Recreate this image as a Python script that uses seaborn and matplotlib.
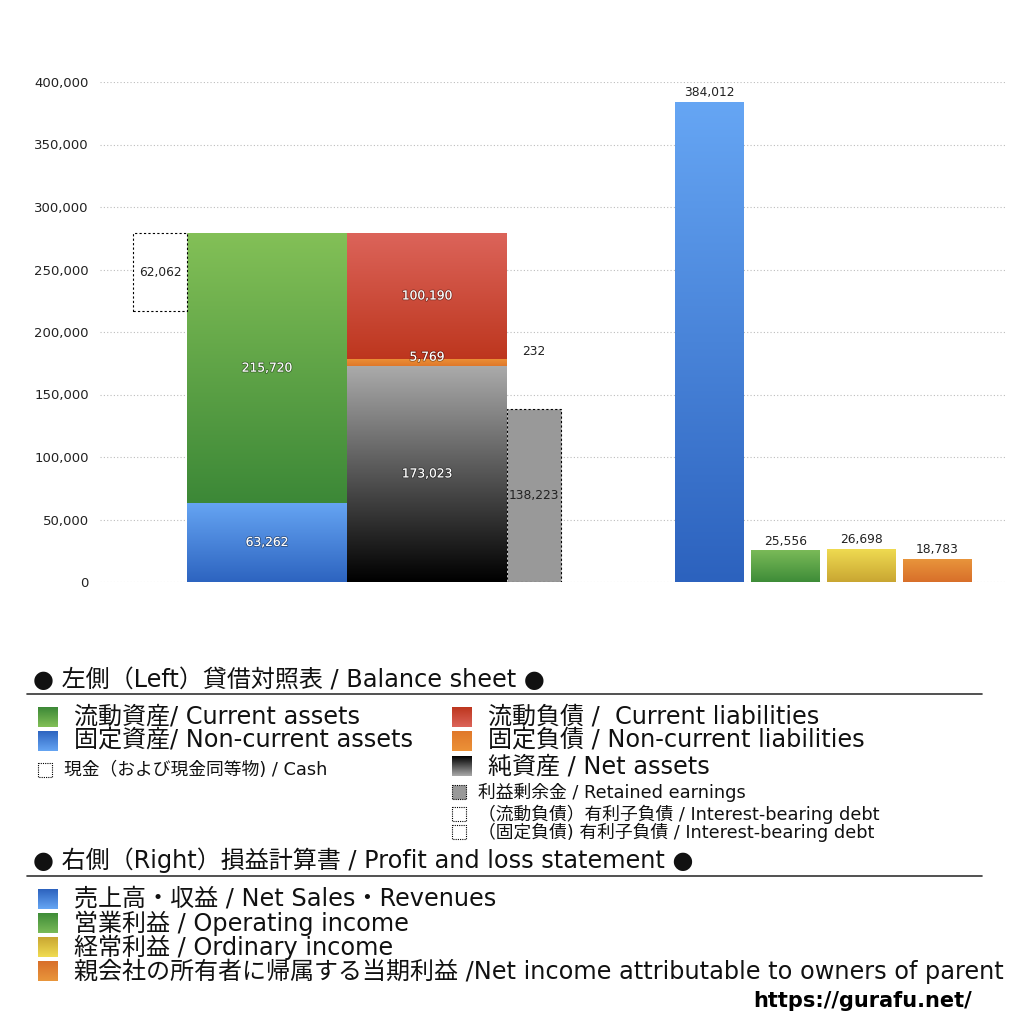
import numpy as np
import matplotlib
matplotlib.use('Agg')
import matplotlib.pyplot as plt
import matplotlib.patheffects as pe
from matplotlib.patches import Rectangle
from matplotlib.colors import LinearSegmentedColormap
import seaborn as sns

# Balance sheet values (left side)
noncurrent_assets = 63262
current_assets = 215720
cash = 62062
net_assets = 173023
noncurrent_liab = 5769
current_liab = 100190
retained_earnings = 138223
interest_debt = 232

# Profit and loss values (right side)
pl_names = ['売上高・収益', '営業利益', '経常利益', '親会社の所有者に帰属する当期利益']
pl_values = [384012, 25556, 26698, 18783]

yticks = [0, 50000, 100000, 150000, 200000, 250000, 300000, 350000, 400000]

# colours (top, bottom of gradient)
c_cur_assets = ('#83c057', '#3c8837')
c_nc_assets = ('#66a5f3', '#2d64c0')
c_cur_liab = ('#dc645a', '#bd361e')
c_nc_liab = ('#ec9238', '#e0782a')
c_net = ('#ababab', '#000000')
pl_colors = [('#66a6f4', '#2c62be'), ('#7aba58', '#3e8c38'),
             ('#f0dc52', '#c9a632'), ('#e9963c', '#d86f2a')]

sns.set_style('white')
# Latin glyphs from DejaVu, Japanese falls back to Noto CJK
plt.rcParams['font.family'] = ['DejaVu Sans', 'Noto Sans CJK JP']
plt.rcParams['text.color'] = '#111111'


def grad_fill(ax, x0, y0, w, h, colors, z=2):
    # vertical gradient clipped to a rectangle
    rect = Rectangle((x0, y0), w, h, facecolor='none', edgecolor='none', zorder=z + 1)
    ax.add_patch(rect)
    cmap = LinearSegmentedColormap.from_list('g', [colors[1], colors[0]])
    img = ax.imshow(np.linspace(0, 1, 256).reshape(-1, 1), cmap=cmap, origin='lower',
                    extent=(x0, x0 + w, y0, y0 + h), aspect='auto', zorder=z,
                    interpolation='bilinear')
    img.set_clip_path(rect)
    return rect


def grad_bar(ax, x0, w, bottom, h, colors):
    bar = ax.bar(x0, h, width=w, bottom=bottom, align='edge',
                 facecolor='none', edgecolor='none', zorder=3)[0]
    cmap = LinearSegmentedColormap.from_list('g', [colors[1], colors[0]])
    img = ax.imshow(np.linspace(0, 1, 256).reshape(-1, 1), cmap=cmap, origin='lower',
                    extent=(x0, x0 + w, bottom, bottom + h), aspect='auto', zorder=2,
                    interpolation='bilinear')
    img.set_clip_path(bar)
    return bar


fig = plt.figure(figsize=(10.24, 10.24), dpi=100)
ax = fig.add_axes([100 / 1024, 1 - 582 / 1024, 905 / 1024, 500 / 1024])

white_fx = [pe.withStroke(linewidth=1.3, foreground=(0, 0, 0, 0.35))]
lab_kw = dict(ha='center', va='center', fontsize=8.8)

# layout of the left columns (x units = px inside axes)
x_cash, w_cash = 33, 54
x_assets, w_main = 87, 160
x_liab = 247
x_re, w_re = 407, 54

total_assets = noncurrent_assets + current_assets

# cash box
ax.bar(x_cash, cash, width=w_cash, bottom=total_assets - cash, align='edge',
       facecolor='white', edgecolor='black', linestyle=(0, (2, 2)), linewidth=0.8, zorder=3)
ax.text(x_cash + w_cash / 2, total_assets - cash / 2, f'{cash:,}', color='#222222', **lab_kw)

# assets
grad_bar(ax, x_assets, w_main, 0, noncurrent_assets, c_nc_assets)
grad_bar(ax, x_assets, w_main, noncurrent_assets, current_assets, c_cur_assets)
ax.text(x_assets + w_main / 2, noncurrent_assets / 2, f'{noncurrent_assets:,}',
        color='white', path_effects=white_fx, **lab_kw)
ax.text(x_assets + w_main / 2, noncurrent_assets + current_assets / 2, f'{current_assets:,}',
        color='white', path_effects=white_fx, **lab_kw)

# liabilities + net assets
grad_bar(ax, x_liab, w_main, 0, net_assets, c_net)
grad_bar(ax, x_liab, w_main, net_assets, noncurrent_liab, c_nc_liab)
grad_bar(ax, x_liab, w_main, net_assets + noncurrent_liab, current_liab, c_cur_liab)
ax.text(x_liab + w_main / 2, net_assets / 2, f'{net_assets:,}',
        color='white', path_effects=white_fx, **lab_kw)
ax.text(x_liab + w_main / 2, net_assets + noncurrent_liab / 2 + 4000, f'{noncurrent_liab:,}',
        color='white', path_effects=white_fx, **lab_kw)
ax.text(x_liab + w_main / 2, net_assets + noncurrent_liab + current_liab / 2, f'{current_liab:,}',
        color='white', path_effects=white_fx, **lab_kw)

# retained earnings
ax.bar(x_re, retained_earnings, width=w_re, align='edge', facecolor='#999999',
       edgecolor='black', linestyle=(0, (2, 2)), linewidth=0.8, zorder=3)
ax.text(x_re + w_re / 2, retained_earnings / 2, f'{retained_earnings:,}', color='#222222', **lab_kw)

# interest-bearing debt label
ax.text(x_re + w_re / 2, net_assets + noncurrent_liab + 6000, f'{interest_debt:,}',
        color='#222222', **lab_kw)

# profit and loss bars
pl_x = [575, 651, 727, 803]
w_pl = 69
for x0, v, col in zip(pl_x, pl_values, pl_colors):
    grad_bar(ax, x0, w_pl, 0, v, col)
    ax.text(x0 + w_pl / 2, v + 2000, f'{v:,}', ha='center', va='bottom',
            fontsize=8.8, color='#222222')

ax.set_xlim(0, 905)
ax.set_ylim(0, 400000)
ax.set_yticks(yticks)
ax.set_yticklabels([f'{v:,}' for v in yticks], fontsize=9.5, color='#222222')
ax.set_xticks([])
ax.tick_params(axis='y', length=0, pad=8)
ax.yaxis.grid(True, linestyle=(0, (1, 2)), color='#bdbdbd', linewidth=0.8)
ax.set_axisbelow(True)
for s in ax.spines.values():
    s.set_visible(False)

# ---- legend area (pixel coordinates) ----
lax = fig.add_axes([0, 0, 1, 1])
lax.patch.set_alpha(0)

big = 17.3
small = 12.8

lax.text(33, 680, '● 左側（Left）貸借対照表 / Balance sheet ●', fontsize=big, va='center')
lax.plot([27, 982], [694, 694], color='#333333', lw=1.2)

big_rows = [
    (38, 717, c_cur_assets, '流動資産/ Current assets'),
    (38, 741, c_nc_assets, '固定資産/ Non-current assets'),
    (452, 717, c_cur_liab, '流動負債 /  Current liabilities'),
    (452, 741, c_nc_liab, '固定負債 / Non-current liabilities'),
    (452, 766, c_net, '純資産 / Net assets'),
]
for x0, yc, col, txt in big_rows:
    grad_fill(lax, x0, yc - 10, 20, 20, col)
    lax.text(x0 + 36, yc, txt, fontsize=big, va='center')

small_rows = [
    (38, 770, '#ffffff', '現金（および現金同等物) / Cash'),
    (452, 792, '#999999', '利益剰余金 / Retained earnings'),
    (452, 814, '#ffffff', '（流動負債）有利子負債 / Interest-bearing debt'),
    (452, 832, '#ffffff', '（固定負債) 有利子負債 / Interest-bearing debt'),
]
for x0, yc, fc, txt in small_rows:
    lax.add_patch(Rectangle((x0, yc - 7), 14, 14, facecolor=fc, edgecolor='black',
                            linestyle=(0, (1, 1)), linewidth=0.8))
    lax.text(x0 + 26, yc, txt, fontsize=small, va='center')

lax.text(33, 860, '● 右側（Right）損益計算書 / Profit and loss statement ●', fontsize=big, va='center')
lax.plot([27, 982], [876, 876], color='#333333', lw=1.2)

pl_legend = ['売上高・収益 / Net Sales・Revenues',
             '営業利益 / Operating income',
             '経常利益 / Ordinary income',
             '親会社の所有者に帰属する当期利益 /Net income attributable to owners of parent']
for i, (txt, col) in enumerate(zip(pl_legend, pl_colors)):
    yc = 899 + 24 * i
    grad_fill(lax, 38, yc - 10, 20, 20, col)
    lax.text(74, yc, txt, fontsize=big, va='center')

lax.text(972, 1001, 'https://gurafu.net/', fontsize=15, fontweight='bold',
         family='DejaVu Sans', ha='right', va='center', color='black')

lax.set_xlim(0, 1024)
lax.set_ylim(1024, 0)
lax.axis('off')

fig.savefig('out.png', dpi=100)
